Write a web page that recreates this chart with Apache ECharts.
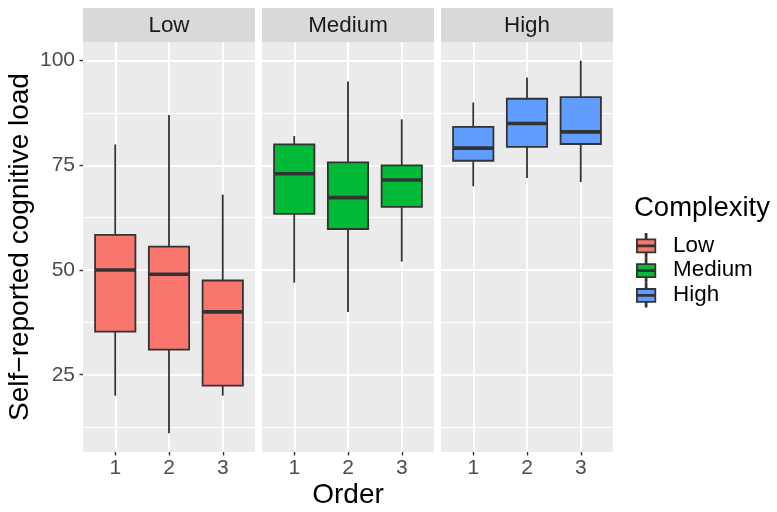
<!DOCTYPE html>
<html>
<head>
<meta charset="utf-8">
<script src="https://cdn.jsdelivr.net/npm/echarts@6/dist/echarts.min.js"></script>
<style>
  html, body { margin: 0; padding: 0; background: #ffffff; }
  #chart { width: 777px; height: 512px; }
</style>
</head>
<body>
<div id="chart"></div>
<script>
// ---- data ----
const orders = [1, 2, 3];
const complexities = ['Low', 'Medium', 'High'];

const lowMin = [20, 11, 20];
const lowQ1 = [35.3, 31.0, 22.4];
const lowMedian = [50, 49, 40];
const lowQ3 = [58.4, 55.6, 47.5];
const lowMax = [80, 87, 68];

const mediumMin = [47, 40, 52];
const mediumQ1 = [63.4, 59.8, 65.1];
const mediumMedian = [73, 67.3, 71.5];
const mediumQ3 = [80, 75.7, 75];
const mediumMax = [82, 95, 86];

const highMin = [70, 72, 71];
const highQ1 = [76.1, 79.4, 80.1];
const highMedian = [79.1, 85, 83];
const highQ3 = [84.2, 90.9, 91.3];
const highMax = [90, 96, 100];

const yTicks = [25, 50, 75, 100];

// ---- build ----
const stats = [
  [lowMin, lowQ1, lowMedian, lowQ3, lowMax],
  [mediumMin, mediumQ1, mediumMedian, mediumQ3, mediumMax],
  [highMin, highQ1, highMedian, highQ3, highMax]
];
const colors = ['#F8766D', '#00BA38', '#619CFF'];
const FONT = 'Liberation Sans, Arial, sans-serif';

const panelLeft = [83, 262, 441];
const panelWidth = 172;
const panelTop = 42;
const panelHeight = 410;
const stripTop = 8;

const allVals = stats.flat(2);
const dMin = Math.min(...allVals), dMax = Math.max(...allVals);
const pad = (dMax - dMin) * 0.05;
const yMin = dMin - pad, yMax = dMax + pad;

const grids = [], xAxes = [], yAxes = [], series = [], graphics = [];

complexities.forEach((name, i) => {
  grids.push({
    left: panelLeft[i], top: panelTop, width: panelWidth, height: panelHeight,
    show: true, backgroundColor: '#EBEBEB', borderWidth: 0
  });
  xAxes.push({
    type: 'value', gridIndex: i, min: 0.4, max: 3.6,
    minInterval: 1, maxInterval: 1,
    axisLine: { show: false },
    axisTick: { show: true, customValues: orders, length: 3.5, lineStyle: { color: '#333333', width: 1.4 } },
    axisLabel: { show: true, customValues: orders, margin: 6, color: '#4D4D4D', fontSize: 21, fontFamily: FONT },
    splitLine: { show: true, lineStyle: { color: '#FFFFFF', width: 2 } }
  });
  yAxes.push({
    type: 'value', gridIndex: i, min: yMin, max: yMax,
    minInterval: 25, maxInterval: 25,
    axisLine: { show: false },
    axisTick: { show: i === 0, customValues: yTicks, length: 3.5, lineStyle: { color: '#333333', width: 1.4 } },
    axisLabel: { show: i === 0, customValues: yTicks, margin: 8, color: '#4D4D4D', fontSize: 21, fontFamily: FONT },
    splitLine: { show: true, lineStyle: { color: '#FFFFFF', width: 2 } },
    minorTick: { show: false, splitNumber: 2 },
    minorSplitLine: { show: true, lineStyle: { color: '#FFFFFF', width: 1 } }
  });
  const s = stats[i];
  const data = orders.map((o, k) => [o, s[0][k], s[1][k], s[2][k], s[3][k], s[4][k]]);
  series.push({
    name: name,
    type: 'custom',
    xAxisIndex: i, yAxisIndex: i,
    itemStyle: { color: colors[i], borderColor: '#333333', borderWidth: 1.5 },
    encode: { x: 0, y: [1, 2, 3, 4, 5] },
    data: data,
    renderItem: function (params, api) {
      const x = api.value(0);
      const pMin = api.coord([x, api.value(1)]);
      const pQ1 = api.coord([x, api.value(2)]);
      const pMed = api.coord([x, api.value(3)]);
      const pQ3 = api.coord([x, api.value(4)]);
      const pMax = api.coord([x, api.value(5)]);
      const w = api.size([0.75, 0])[0];
      const cx = pMed[0];
      const ink = '#333333';
      return {
        type: 'group',
        children: [
          { type: 'line', shape: { x1: cx, y1: pMax[1], x2: cx, y2: pQ3[1] }, style: { stroke: ink, lineWidth: 1.8 } },
          { type: 'line', shape: { x1: cx, y1: pQ1[1], x2: cx, y2: pMin[1] }, style: { stroke: ink, lineWidth: 1.8 } },
          { type: 'rect', shape: { x: cx - w / 2, y: pQ3[1], width: w, height: pQ1[1] - pQ3[1] },
            style: { fill: colors[i], stroke: ink, lineWidth: 1.8 } },
          { type: 'line', shape: { x1: cx - w / 2, y1: pMed[1], x2: cx + w / 2, y2: pMed[1] },
            style: { stroke: ink, lineWidth: 3.6 } }
        ]
      };
    }
  });
  // facet strip
  graphics.push({
    type: 'rect', left: panelLeft[i], top: stripTop, silent: true,
    shape: { width: panelWidth, height: panelTop - stripTop }, style: { fill: '#D9D9D9' }
  });
  graphics.push({
    type: 'text', x: panelLeft[i] + panelWidth / 2, y: 26, silent: true,
    style: { text: name, fill: '#1A1A1A', font: '22.4px ' + FONT, align: 'center', verticalAlign: 'middle' }
  });
});

// axis titles & legend title
graphics.push({
  type: 'text', x: 20, y: panelTop + panelHeight / 2, rotation: Math.PI / 2, silent: true,
  style: { text: 'Self\u2212reported cognitive load', fill: '#000000', font: '28px ' + FONT, align: 'center', verticalAlign: 'middle' }
});
graphics.push({
  type: 'text', x: (panelLeft[0] + panelLeft[2] + panelWidth) / 2, y: 495, silent: true,
  style: { text: 'Order', fill: '#000000', font: '28px ' + FONT, align: 'center', verticalAlign: 'middle' }
});
graphics.push({
  type: 'text', x: 634, y: 208, silent: true,
  style: { text: 'Complexity', fill: '#000000', font: '27.5px ' + FONT, align: 'left', verticalAlign: 'middle' }
});

const keyIcon = 'path://M9.5,0h1v6h-1z M0,6h20v14h-20z M9.5,20h1v5h-1z M0,12.5h20v1h-20z';

const option = {
  animation: false,
  backgroundColor: '#FFFFFF',
  grid: grids,
  xAxis: xAxes,
  yAxis: yAxes,
  legend: {
    orient: 'vertical', left: 636, top: 233, padding: 0,
    itemWidth: 44, itemHeight: 23, itemGap: 0,
    selectedMode: false,
    icon: keyIcon,
    itemStyle: { borderColor: '#333333', borderWidth: 1.8 },
    textStyle: { fontSize: 22.4, color: '#000000', fontFamily: FONT },
    data: complexities
  },
  graphic: graphics,
  series: series
};

const chart = echarts.init(document.getElementById('chart'), null, { renderer: 'canvas' });
chart.setOption(option);
</script>
</body>
</html>
